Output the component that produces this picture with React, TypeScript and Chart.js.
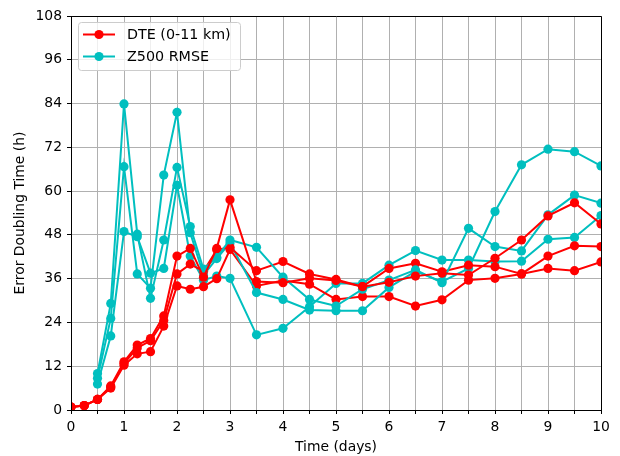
import React, { useEffect, useRef } from "react";
import { Chart, registerables } from "chart.js";

Chart.register(...registerables);

const times = [0, 0.25, 0.5, 0.75, 1, 1.25, 1.5, 1.75, 2, 2.25, 2.5, 2.75, 3, 3.5, 4, 4.5, 5, 5.5, 6, 6.5, 7, 7.5, 8, 8.5, 9, 9.5, 10];

const dteRun1 = [0.8, 1.2, 2.9, 6.6, 13.2, 17.8, 19.6, 25.8, 42.2, 44.3, 36.4, 44.3, 57.6, 35.2, 34.9, 36.1, 35.5, 33.8, 35.0, 36.7, 37.5, 37.0, 41.6, 46.6, 53.2, 56.8, 51.0];
const dteRun2 = [0.8, 1.2, 2.9, 6.3, 12.8, 17.0, 19.0, 24.5, 37.3, 40.0, 38.0, 43.9, 44.6, 38.2, 40.7, 37.3, 35.8, 33.8, 38.8, 40.2, 37.9, 39.7, 39.3, 37.3, 38.8, 38.2, 40.6];
const dteRun3 = [0.8, 1.2, 2.9, 6.0, 12.3, 15.4, 16.0, 23.0, 34.0, 33.1, 33.8, 36.0, 44.0, 34.0, 35.5, 34.5, 30.3, 31.1, 31.1, 28.5, 30.2, 35.6, 36.1, 37.3, 42.2, 45.0, 44.8];

const z500Run1 = [null, null, 10.0, 29.2, 83.9, 48.2, 30.6, 46.6, 66.5, 50.3, 38.6, 41.9, 46.6, 44.6, 36.4, 30.3, 28.5, 33.1, 35.6, 38.4, 34.9, 49.8, 44.8, 43.6, 53.5, 58.9, 56.7];
const z500Run2 = [null, null, 8.7, 25.1, 66.7, 37.3, 33.4, 64.4, 81.6, 48.6, 37.0, 41.5, 45.8, 32.2, 30.3, 27.4, 27.2, 27.2, 33.6, 38.0, 35.2, 38.8, 54.4, 67.2, 71.5, 70.8, 66.9];
const z500Run3 = [null, null, 7.1, 20.3, 48.9, 47.5, 37.5, 38.8, 61.6, 42.2, 35.6, 36.7, 36.1, 20.6, 22.4, 28.3, 34.7, 34.7, 39.7, 43.7, 41.1, 41.1, 40.7, 40.8, 46.8, 47.3, 53.3];

const legendLabels = ["DTE (0-11 km)", "Z500 RMSE"];
const RED = "#ff0000";
const CYAN = "#00bfbf";
const FONT = "DejaVu Sans";

function toPoints(vals: (number | null)[]) {
  return times.map((t, i) => ({ x: t, y: vals[i] }));
}

function makeDs(vals: (number | null)[], color: string, label: string) {
  return {
    label,
    data: toPoints(vals),
    borderColor: color,
    backgroundColor: color,
    borderWidth: 2,
    pointRadius: 4.6,
    pointBorderWidth: 0,
    pointBackgroundColor: color,
    tension: 0,
    clip: 0,
    spanGaps: false,
  };
}

const framePlugin = {
  id: "frameLegend",
  afterDraw(chart: any) {
    const { ctx, chartArea } = chart;
    const { left, right, top, bottom } = chartArea;
    ctx.save();
    ctx.strokeStyle = "#000";
    ctx.lineWidth = 1;
    ctx.beginPath();
    ctx.rect(Math.round(left) + 0.5, Math.round(top) + 0.5, Math.round(right - left), Math.round(bottom - top));
    ctx.stroke();

    // legend
    const bx = 78.5, by = 22.5, bw = 162, bh = 48, r = 3;
    ctx.globalAlpha = 0.8;
    ctx.fillStyle = "#fff";
    ctx.beginPath();
    ctx.moveTo(bx + r, by);
    ctx.lineTo(bx + bw - r, by);
    ctx.quadraticCurveTo(bx + bw, by, bx + bw, by + r);
    ctx.lineTo(bx + bw, by + bh - r);
    ctx.quadraticCurveTo(bx + bw, by + bh, bx + bw - r, by + bh);
    ctx.lineTo(bx + r, by + bh);
    ctx.quadraticCurveTo(bx, by + bh, bx, by + bh - r);
    ctx.lineTo(bx, by + r);
    ctx.quadraticCurveTo(bx, by, bx + r, by);
    ctx.closePath();
    ctx.fill();
    ctx.globalAlpha = 1;
    ctx.strokeStyle = "#cccccc";
    ctx.stroke();

    const rows = [
      { label: legendLabels[0], color: RED, y: 34.5 },
      { label: legendLabels[1], color: CYAN, y: 56.5 },
    ];
    ctx.font = `14.3px "${FONT}"`;
    ctx.textBaseline = "middle";
    ctx.textAlign = "left";
    for (const row of rows) {
      ctx.strokeStyle = row.color;
      ctx.lineWidth = 2;
      ctx.beginPath();
      ctx.moveTo(83, row.y);
      ctx.lineTo(115, row.y);
      ctx.stroke();
      ctx.fillStyle = row.color;
      ctx.beginPath();
      ctx.arc(99, row.y, 4.6, 0, Math.PI * 2);
      ctx.fill();
      ctx.fillStyle = "#000";
      ctx.fillText(row.label, 127, row.y + 1);
    }
    ctx.restore();
  },
};

export default function App() {
  const ref = useRef<HTMLCanvasElement | null>(null);
  useEffect(() => {
    if (!ref.current) return;
    const chart = new Chart(ref.current, {
      type: "line",
      data: {
        datasets: [
          makeDs(dteRun1, RED, legendLabels[0]),
          makeDs(z500Run1, CYAN, legendLabels[1]),
          makeDs(dteRun2, RED, legendLabels[0]),
          makeDs(z500Run2, CYAN, legendLabels[1]),
          makeDs(dteRun3, RED, legendLabels[0]),
          makeDs(z500Run3, CYAN, legendLabels[1]),
        ] as any,
      },
      options: {
        animation: false,
        responsive: false,
        devicePixelRatio: 1,
        layout: { padding: { top: 16, right: 19, left: 0, bottom: 0 } },
        plugins: { legend: { display: false }, tooltip: { enabled: false } },
        scales: {
          x: {
            type: "linear",
            min: 0,
            max: 10,
            afterFit: (s: any) => { s.height = 46; },
            border: { color: "#000", width: 1 },
            grid: { color: "#b0b0b0", lineWidth: 1, tickColor: "#000", tickLength: 4 },
            ticks: {
              stepSize: 0.5,
              autoSkip: false,
              maxRotation: 0,
              padding: 5,
              color: "#000",
              font: { family: FONT, size: 13.9 },
              callback: (v: any) => (Number.isInteger(v) ? String(v) : ""),
            },
            title: {
              display: true,
              text: "Time (days)",
              color: "#000",
              font: { family: FONT, size: 13.9 },
              padding: { top: 0, bottom: 0 },
            },
          },
          y: {
            min: 0,
            max: 108,
            afterFit: (s: any) => { s.width = 71; },
            border: { color: "#000", width: 1 },
            grid: { color: "#b0b0b0", lineWidth: 1, tickColor: "#000", tickLength: 4 },
            ticks: {
              stepSize: 12,
              padding: 5,
              color: "#000",
              font: { family: FONT, size: 13.9 },
            },
            title: {
              display: true,
              text: "Error Doubling Time (h)",
              color: "#000",
              font: { family: FONT, size: 13.9 },
              padding: { top: 12, bottom: 0 },
            },
          },
        },
      } as any,
      plugins: [framePlugin],
    });
    return () => chart.destroy();
  }, []);
  return (
    <div style={{ position: "fixed", left: 0, top: 0, width: 620, height: 456, background: "#fff" }}>
      <canvas ref={ref} width={620} height={456} style={{ width: 620, height: 456 }} />
    </div>
  );
}
